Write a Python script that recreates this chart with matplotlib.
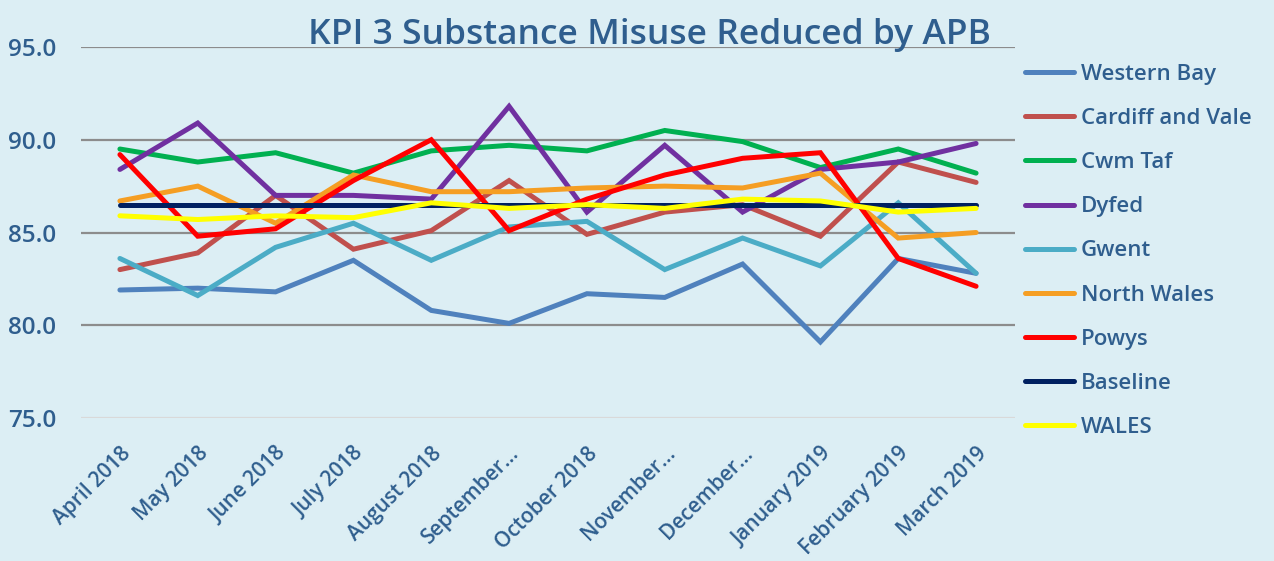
import matplotlib
matplotlib.use("Agg")
import matplotlib.pyplot as plt
from matplotlib.lines import Line2D

months = ["April 2018", "May 2018", "June 2018", "July 2018", "August 2018",
          "September…", "October 2018", "November…", "December…",
          "January 2019", "February 2019", "March 2019"]

western_bay = [81.9, 82.0, 81.8, 83.5, 80.8, 80.1, 81.7, 81.5, 83.3, 79.1, 83.6, 82.8]
cardiff_vale = [83.0, 83.9, 87.0, 84.1, 85.1, 87.8, 84.9, 86.1, 86.5, 84.8, 88.8, 87.7]
cwm_taf = [89.5, 88.8, 89.3, 88.2, 89.4, 89.7, 89.4, 90.5, 89.9, 88.5, 89.5, 88.2]
dyfed = [88.4, 90.9, 87.0, 87.0, 86.8, 91.8, 86.1, 89.7, 86.1, 88.4, 88.8, 89.8]
gwent = [83.6, 81.6, 84.2, 85.5, 83.5, 85.3, 85.6, 83.0, 84.7, 83.2, 86.6, 82.8]
north_wales = [86.7, 87.5, 85.5, 88.1, 87.2, 87.2, 87.4, 87.5, 87.4, 88.2, 84.7, 85.0]
powys = [89.2, 84.8, 85.2, 87.8, 90.0, 85.1, 86.8, 88.1, 89.0, 89.3, 83.6, 82.1]
baseline = [86.5] * 12
wales = [85.9, 85.7, 85.9, 85.8, 86.6, 86.3, 86.5, 86.3, 86.8, 86.7, 86.1, 86.3]

series_names = ["Western Bay", "Cardiff and Vale", "Cwm Taf", "Dyfed", "Gwent",
                "North Wales", "Powys", "Baseline", "WALES"]
series_values = [western_bay, cardiff_vale, cwm_taf, dyfed, gwent,
                 north_wales, powys, baseline, wales]
colors = ["#4F81BD", "#C0504D", "#00B050", "#7030A0", "#4BACC6",
          "#F59E23", "#FF0000", "#002060", "#FFFF00"]

text_color = "#2F5E8E"
bg = "#DCEEF4"
font = "Open Sans"

fig = plt.figure(figsize=(12.74, 5.61), dpi=100)
fig.patch.set_facecolor(bg)
ax = fig.add_axes([81/1274, 1-418/561, (1015-81)/1274, (418-47)/561])
ax.set_facecolor(bg)

x = list(range(len(months)))
for name, vals, c in zip(series_names, series_values, colors):
    ax.plot(x, vals, color=c, lw=3.6, solid_capstyle="round", solid_joinstyle="miter", label=name, zorder=3)

ax.set_xlim(-0.5, len(months) - 0.5)
ax.set_ylim(75, 95)
yt = [75, 80, 85, 90, 95]
ax.set_yticks(yt)
ax.set_yticklabels([f"{v:.1f}" for v in yt], fontfamily=font, fontweight="semibold",
                   fontsize=17.5, color=text_color)
for v in yt:
    ax.axhline(v, color="#8C8C8C" if v != 75 else "#D9D9D9", lw=1.6, zorder=1)
ax.set_xticks(x)
ax.set_xticklabels(months, rotation=45, ha="right", rotation_mode="anchor",
                   fontfamily=font, fontweight="semibold", fontsize=15, color=text_color)
ax.tick_params(axis="both", length=0)
ax.tick_params(axis="y", pad=18)
ax.tick_params(axis="x", pad=18)
for s in ax.spines.values():
    s.set_visible(False)

fig.text(0.51, 0.938, "KPI 3 Substance Misuse Reduced by APB", ha="center", va="center",
         fontfamily=font, fontweight="semibold", fontsize=25.5, color=text_color)

handles = [Line2D([0], [0], color=c, lw=3.6, solid_capstyle="round") for c in colors]
leg = fig.legend(handles, series_names, loc="upper left", bbox_to_anchor=(1025/1274, 1-64/561),
                 frameon=False, handlelength=2.2, handletextpad=0.3, labelspacing=1.04,
                 borderpad=0, borderaxespad=0,
                 prop={"family": font, "weight": "semibold", "size": 16})
for t in leg.get_texts():
    t.set_color(text_color)

fig.savefig("out.png", dpi=100, facecolor=bg)
